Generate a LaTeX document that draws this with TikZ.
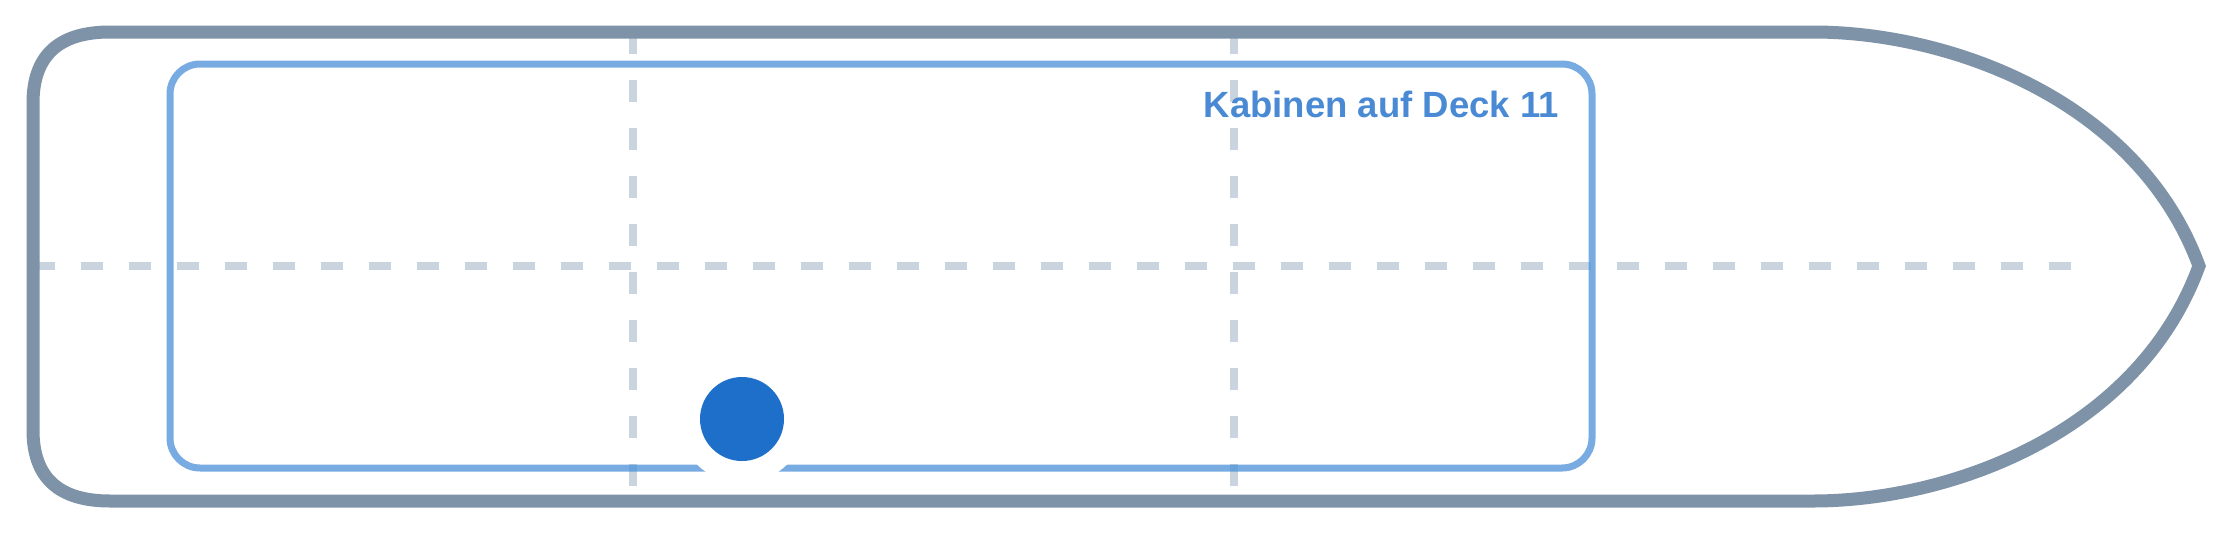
\documentclass[tikz,border=0pt]{standalone}
\usepackage{fontspec}
\setmainfont{Liberation Sans}
\definecolor{hullc}{RGB}{127,147,168}
\definecolor{innerc}{RGB}{74,144,217}
\definecolor{dashc}{RGB}{148,170,192}
\definecolor{dotc}{RGB}{30,111,202}
\definecolor{textc}{RGB}{74,138,212}
\tikzset{
  hull/.style={draw=hullc, line width=13pt, line join=miter, miter limit=10},
  deckbox/.style={draw=innerc, draw opacity=0.75, line width=7pt, rounded corners=30pt},
  axis/.style={draw=dashc, draw opacity=0.5, line width=8pt, dash pattern=on 22pt off 26pt},
  label/.style={text=textc, font=\fontsize{36.5}{40}\selectfont\bfseries, inner sep=0pt, anchor=base east},
  halo/.style={circle, fill=white, minimum size=128pt, inner sep=0pt},
  marker/.style={circle, fill=dotc, minimum size=84pt, inner sep=0pt}
}
\begin{document}
\begin{tikzpicture}[x=1pt,y=-1pt]
\useasboundingbox[fill=white] (0,0) rectangle (2240,533);
% dashed axes
\coordinate (v1t) at (633,32);  \coordinate (v1b) at (633,501);
\coordinate (v2t) at (1234,32); \coordinate (v2b) at (1234,501);
\coordinate (hl) at (33,266);   \coordinate (hr) at (2075,266);
\draw[axis] (v1t) -- (v1b);
\draw[axis] (v2t) -- (v2b);
\draw[axis] (hl) -- (hr);
% hull
\draw[hull] (110,32) -- (1813,32)
  .. controls (1950,32) and (2138,100) .. (2199,266)
  .. controls (2138,433) and (1950,501) .. (1813,501)
  -- (110,501) .. controls (58.7,501) and (33,477.7) .. (33,430)
  -- (33,103) .. controls (33,55.7) and (58.7,32) .. (110,32) -- cycle;
% deck area
\draw[deckbox] (170,64) rectangle (1592,468);
\node[label] (title) at (1559,117) {Kabinen auf Deck 11};
% position marker
\node[halo] (halo) at (742,419) {};
\node[marker] (dot) at (742,419) {};
\end{tikzpicture}
\end{document}
